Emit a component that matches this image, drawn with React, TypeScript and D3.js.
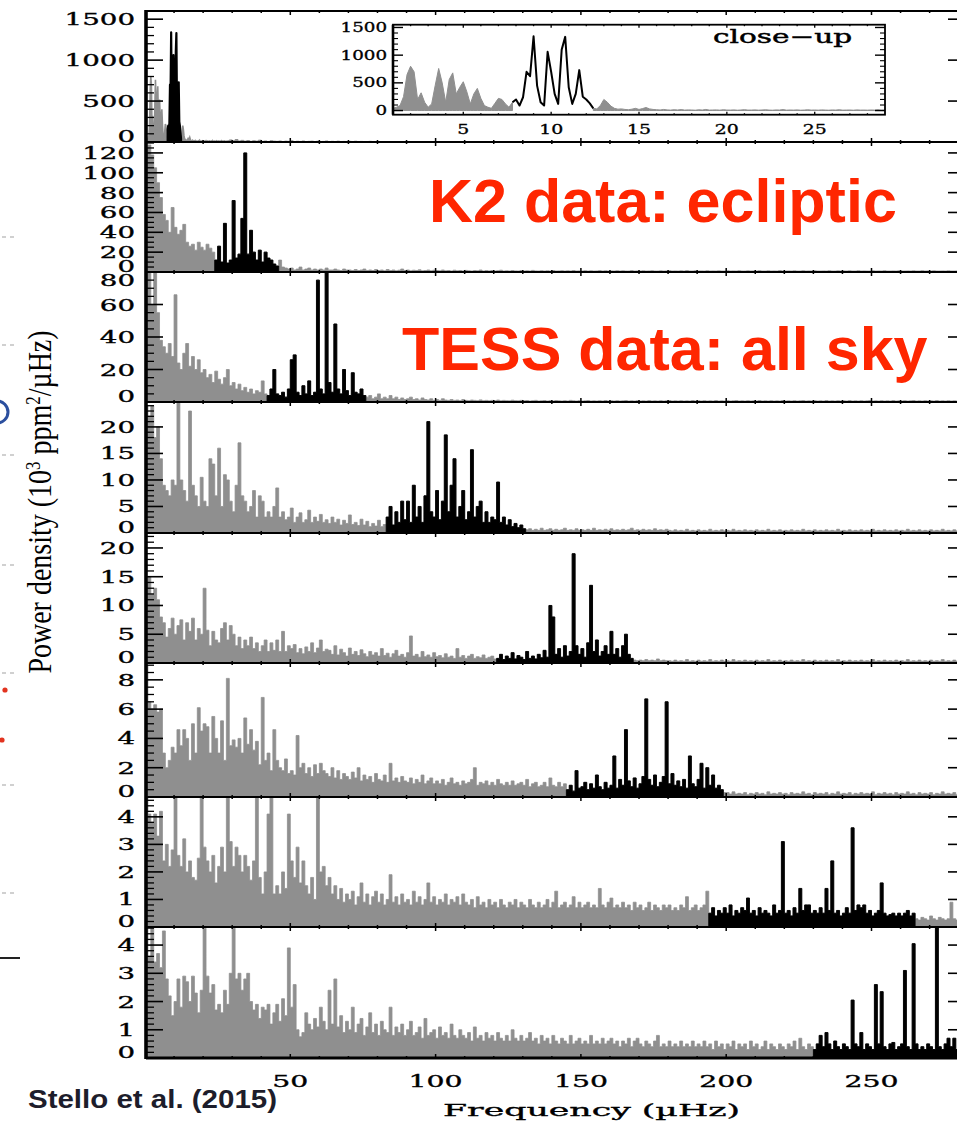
import React from "react";
import * as d3 from "d3";

// ---------- close-up spectrum of the lowest-frequency star (0.2 µHz bins from 1 µHz) ----------
const closeUpStart = 1.0;
const closeUpStep = 0.2;
const closeUpPower = [
  40, 60, 90, 250, 650, 800, 700, 200, 320, 150,
  60, 120, 450, 760, 500, 150, 560, 680, 300, 420,
  520, 340, 120, 300, 400, 220, 90, 60, 40, 130,
  220, 200, 120, 60, 150, 200, 90, 240, 700, 620,
  1340, 450, 150, 90, 1060, 700, 300, 120, 1100, 1330,
  420, 120, 300, 730, 250, 200, 130, 40, 30, 90,
  200, 150, 80, 40, 25, 30, 20, 15, 25, 40,
  20, 35, 55, 30, 20, 15, 10, 20, 12, 8,
  15, 10, 18, 8, 12, 10, 6, 14, 9, 20,
  8, 10, 12, 7, 15, 9, 8, 12, 6, 10,
  16, 8, 9, 12, 7, 10, 14, 8, 6, 11,
  9, 18, 7, 10, 8, 12, 6, 9, 14, 8,
  10, 7, 12, 9, 6, 11, 8, 15, 7, 9,
  10, 6, 12, 8, 9, 7, 10, 8, 13, 7,
  9,
];
// bins (inclusive) holding the oscillation modes of that star
const closeUpModes = [34, 57];
// 1 µHz bins from 29 µHz onwards
const tailPower1 = [
  25, 15, 30, 12, 20, 10, 18, 8, 15, 10,
  22, 8, 12, 6, 15, 10, 8, 12, 6, 10,
  8, 14, 6, 9, 7, 12, 5, 8, 10, 6,
  9, 5, 7, 12, 6, 8, 5, 10, 6, 7,
  5, 8, 6, 9, 5, 7, 6, 5, 8, 6,
  5,
];

// ---------- full spectra, 1 µHz bins starting at 0 µHz ----------
const power2 = [
  125, 128, 118, 105, 90, 75, 58, 52, 40, 65,
  45, 38, 42, 48, 30, 26, 28, 22, 30, 25,
  22, 28, 24, 20, 12, 26, 10, 49, 9, 12,
  72, 14, 18, 54, 120, 18, 42, 20, 12, 22,
  10, 20, 14, 12, 8, 6, 12, 5, 4, 3,
  4, 2, 3, 5, 2, 3, 4, 2, 3, 2,
  3, 2, 4, 2, 2, 3, 2, 1.5, 3, 2,
  2, 1.5, 2.5, 1.5, 2, 3, 1.5, 2, 1.5, 2.5,
  1.5, 2, 1.2, 2.5, 1.5, 2, 1.2, 1.8, 3, 1.5,
  2, 1.2, 1.8, 1.5, 2.2, 1.2, 1.5, 2, 1.2, 1.8,
  1.5, 1.2, 2, 1.2, 1.5, 1, 1.8, 1.2, 1.5, 1,
  1.6, 1.2, 1, 1.5, 1.2, 2, 1, 1.4, 1.1, 1.5,
  1, 1.3, 1.8, 1, 1.2, 1, 1.5, 1.1, 1, 1.4,
  1, 1.2, 1, 1.6, 1.1, 1, 1.3, 1, 1.2, 1,
  1.4, 1, 1.1, 1.3, 1, 1.2, 1, 1.5, 1, 1.1,
  1, 1.3, 1, 1.2, 1, 1.1, 1.4, 1, 1.2, 1,
  1.1, 1, 1.3, 1, 1.2, 1, 1, 1.4, 1, 1.1,
  1, 1.2, 1, 1.1, 1.3, 1, 1, 1.2, 1, 1.1,
  1.3, 1, 1.1, 1, 1.2, 1, 1.4, 1, 1, 1.2,
  1, 1.1, 1, 1.3, 1, 1.1, 1, 1.2, 1, 1,
  1.2, 1, 1.1, 1, 1.3, 1, 1, 1.2, 1, 1.1,
  1, 1.3, 1, 1, 1.2, 1, 1.1, 1, 1.4, 1,
  1, 1.1, 1, 1.2, 1, 1, 1.3, 1, 1.1, 1,
  1.2, 1, 1, 1.1, 1, 1.3, 1, 1, 1.2, 1,
  1.1, 1, 1.2, 1, 1, 1.3, 1, 1.1, 1, 1,
  1.2, 1, 1.1, 1, 1.3, 1, 1, 1.1, 1, 1.2,
  1, 1, 1.1, 1, 1.2, 1, 1, 1.3, 1, 1.1,
  1, 1.2, 1, 1, 1.1, 1, 1.2, 1, 1, 1.1,
  1, 1.2, 1,
];

const power3 = [
  80, 80, 60, 80, 55, 38, 34, 30, 36, 28,
  66, 24, 20, 30, 36, 22, 28, 20, 26, 18,
  20, 15, 17, 12, 19, 14, 11, 15, 20, 10,
  12, 8, 11, 7, 9, 6, 8, 5, 7, 6,
  13, 5, 4, 8, 20, 5, 4, 6, 3, 8,
  26, 29, 6, 4, 10, 5, 13, 4, 6, 75,
  8, 5, 80, 12, 6, 48, 8, 5, 20, 7,
  4, 18, 6, 5, 8, 4, 3, 4, 2, 3,
  5, 2, 3, 2, 4, 2, 3, 1.5, 2.5, 1.5,
  2, 3, 1.5, 2, 1.2, 2.5, 1.5, 1.2, 2, 1,
  1.5, 1, 2, 1.2, 1, 1.5, 1, 1.2, 0.8, 1.5,
  1, 0.8, 1.2, 1, 0.8, 1.3, 0.8, 1, 0.7, 1,
  0.8, 1.2, 0.7, 1, 0.8, 0.7, 1.1, 0.8, 0.7, 1,
  0.7, 0.9, 0.6, 0.8, 1, 0.6, 0.7, 0.9, 0.6, 0.8,
  0.6, 0.9, 0.7, 0.6, 0.8, 0.6, 1, 0.7, 0.6, 0.8,
  0.6, 0.7, 0.9, 0.6, 0.7, 0.6, 0.8, 0.6, 0.9, 0.6,
  0.7, 0.6, 0.8, 0.6, 0.7, 0.9, 0.6, 0.7, 0.6, 0.8,
  0.6, 0.7, 0.6, 0.9, 0.6, 0.7, 0.6, 0.8, 0.6, 0.7,
  0.9, 0.6, 0.7, 0.6, 0.8, 0.6, 0.7, 0.6, 0.9, 0.6,
  0.7, 0.6, 0.8, 0.6, 0.7, 0.6, 0.9, 0.6, 0.7, 0.6,
  0.8, 0.6, 0.7, 0.9, 0.6, 0.7, 0.6, 0.8, 0.6, 0.7,
  0.6, 0.9, 0.6, 0.7, 0.6, 0.8, 0.6, 0.7, 0.6, 0.9,
  0.6, 0.7, 0.6, 0.8, 0.6, 0.7, 0.9, 0.6, 0.7, 0.6,
  0.8, 0.6, 0.7, 0.6, 0.9, 0.6, 0.7, 0.6, 0.8, 0.6,
  0.7, 0.6, 0.9, 0.6, 0.7, 0.6, 0.8, 0.6, 0.7, 0.9,
  0.6, 0.7, 0.6, 0.8, 0.6, 0.7, 0.6, 0.9, 0.6, 0.7,
  0.6, 0.8, 0.6, 0.7, 0.9, 0.6, 0.7, 0.6, 0.8, 0.6,
  0.7, 0.6, 0.9, 0.6, 0.7, 0.6, 0.8, 0.6, 0.7, 0.6,
  0.9, 0.6, 0.7,
];

const power4 = [
  24, 22, 24, 18, 20, 14, 9, 8, 7, 10,
  9, 24.5, 10, 8, 6, 23, 9, 7, 5, 10.5,
  6, 5, 14, 13, 7, 16, 5, 11, 10, 6,
  4, 9, 17, 7, 6, 4, 5, 8, 3, 7,
  6, 3, 4, 3, 5, 8.5, 3, 4, 2.5, 3,
  4.7, 2, 3, 3.8, 2, 2.5, 4.3, 2, 3, 2.2,
  3.5, 2, 2.5, 1.8, 3, 2, 2.6, 1.5, 2.4, 1.8,
  3.4, 1.6, 2, 1.4, 2.6, 1.5, 2.2, 1.2, 1.8, 1.3,
  2.4, 1.2, 1.6, 3, 5, 1.5, 4, 2, 6, 2.5,
  6, 2, 9, 3, 5, 2, 7, 21, 4, 3,
  8, 2.5, 6, 18.5, 4, 9, 14, 3, 5, 8,
  2.5, 4, 15.7, 3, 5, 6, 2, 4, 2, 3,
  2.5, 9.6, 2, 3, 1.5, 2.5, 1.2, 1.8, 1, 1.5,
  0.8, 0.6, 0.8, 0.5, 0.7, 0.5, 0.9, 0.5, 0.6, 0.8,
  0.5, 0.7, 0.5, 0.6, 0.9, 0.5, 0.6, 0.5, 0.8, 0.5,
  0.6, 0.5, 0.7, 0.5, 0.9, 0.5, 0.6, 0.5, 0.7, 0.5,
  0.8, 0.5, 0.6, 0.5, 0.7, 0.5, 0.6, 0.9, 0.5, 0.6,
  0.5, 0.7, 0.5, 0.6, 0.5, 0.8, 0.5, 0.6, 0.5, 0.7,
  0.5, 0.4, 0.6, 0.4, 0.5, 0.4, 0.7, 0.4, 0.5, 0.4,
  0.6, 0.4, 0.5, 0.4, 0.7, 0.4, 0.5, 0.4, 0.6, 0.4,
  0.5, 0.4, 0.7, 0.4, 0.5, 0.4, 0.6, 0.4, 0.5, 0.4,
  0.6, 0.4, 0.5, 0.4, 0.7, 0.4, 0.5, 0.4, 0.6, 0.4,
  0.5, 0.4, 0.6, 0.4, 0.5, 0.4, 0.7, 0.4, 0.5, 0.4,
  0.6, 0.4, 0.5, 0.4, 0.6, 0.4, 0.5, 0.4, 0.7, 0.4,
  0.5, 0.4, 0.6, 0.4, 0.5, 0.4, 0.6, 0.4, 0.5, 0.4,
  0.7, 0.4, 0.5, 0.4, 0.6, 0.4, 0.5, 0.4, 0.6, 0.4,
  0.5, 0.4, 0.7, 0.4, 0.5, 0.4, 0.6, 0.4, 0.5, 0.4,
  0.6, 0.4, 0.5, 0.4, 0.7, 0.4, 0.5, 0.4, 0.6, 0.4,
  0.5, 0.4, 0.6,
];

const power5 = [
  14, 15, 12, 13, 11, 8, 7, 4.5, 6, 7.8,
  5, 6.5, 7.5, 4, 7, 5.5, 7.8, 4, 6, 5,
  13, 5.7, 3, 5.5, 4, 3.5, 6, 7, 4, 6.5,
  5, 3, 4.5, 2.5, 4, 3, 4.5, 2.5, 3.5, 2,
  3, 4, 2, 3.5, 2.2, 4, 2, 5.5, 2, 3,
  2.5, 3.2, 1.8, 2.5, 1.6, 2.8, 2, 3.5, 1.8, 2.6,
  4, 2, 2.4, 2.2, 1.5, 3, 1.4, 2.4, 1.8, 1.2,
  2.6, 1.5, 2, 1.3, 2.3, 1.6, 1.1, 2, 1.4, 1.8,
  1.2, 2.5, 1.3, 1.7, 1, 1.6, 2.2, 1.2, 1.5, 1,
  1.8, 4.7, 1.2, 1.5, 1, 2, 1.1, 1.4, 1, 1.8,
  1.1, 1.3, 0.9, 1.6, 1, 1.2, 0.8, 2.5, 1, 1.3,
  0.8, 1.2, 1.5, 0.8, 1.1, 0.9, 1.4, 0.8, 1, 1.2,
  0.7, 0.8, 1.5, 0.6, 1.2, 0.8, 1.8, 0.7, 1.3, 1,
  0.6, 2, 0.8, 1.2, 0.7, 1.5, 0.9, 2.2, 1, 10,
  8, 1.5, 2.5, 1, 3, 1.2, 2, 19, 3, 1.5,
  2.5, 1, 3.5, 13.5, 2, 4, 1.2, 2, 3, 1.5,
  5.5, 1.5, 2.5, 1, 3, 5, 1.5, 0.8, 0.5, 0.4,
  0.5, 0.4, 0.6, 0.4, 0.5, 0.4, 0.7, 0.4, 0.5, 0.4,
  0.4, 0.3, 0.5, 0.3, 0.4, 0.3, 0.6, 0.3, 0.4, 0.3,
  0.5, 0.3, 0.4, 0.3, 0.6, 0.3, 0.4, 0.3, 0.5, 0.3,
  0.4, 0.3, 0.6, 0.3, 0.4, 0.3, 0.5, 0.3, 0.4, 0.3,
  0.5, 0.3, 0.4, 0.3, 0.6, 0.3, 0.4, 0.3, 0.5, 0.3,
  0.4, 0.3, 0.5, 0.3, 0.4, 0.3, 0.6, 0.3, 0.4, 0.3,
  0.5, 0.3, 0.4, 0.3, 0.5, 0.3, 0.4, 0.3, 0.6, 0.3,
  0.4, 0.3, 0.5, 0.3, 0.4, 0.3, 0.5, 0.3, 0.4, 0.3,
  0.6, 0.3, 0.4, 0.3, 0.5, 0.3, 0.4, 0.3, 0.5, 0.3,
  0.4, 0.3, 0.6, 0.3, 0.4, 0.3, 0.5, 0.3, 0.4, 0.3,
  0.5, 0.3, 0.4, 0.3, 0.6, 0.3, 0.4, 0.3, 0.5, 0.3,
  0.4, 0.3, 0.5,
];

const power6 = [
  9, 6.5, 6, 6.3, 5.8, 6, 3, 2, 2.5, 3.4,
  3, 4.6, 3.5, 4.6, 4, 2.5, 5, 3, 6.1, 4.5,
  5, 4.8, 3, 5.5, 4, 3, 5.2, 2.5, 8.1, 3.5,
  3.9, 3.4, 4, 3, 5.4, 3.6, 4.6, 3.2, 3.8, 2.2,
  6.8, 2.5, 3, 1.8, 4.6, 2.5, 2, 1.8, 2.6, 1.6,
  1.8, 1.5, 4.2, 2, 2.3, 1.6, 2, 1.4, 2.2, 1.6,
  2.3, 1.8, 1.6, 1.4, 2, 1.3, 1.8, 1.2, 1.6, 1.4,
  1.2, 1.7, 1.3, 2, 1.1, 1.5, 1.2, 1.4, 1, 1.6,
  1.2, 1.1, 1.5, 1, 2.3, 1.1, 1.3, 1, 1.4, 1.1,
  1, 1.3, 0.9, 1.2, 1, 1.5, 0.9, 1.1, 1.3, 0.9,
  1.1, 0.9, 1.2, 0.8, 1, 1.3, 0.9, 1, 0.8, 1.1,
  0.9, 1, 1.2, 2, 0.8, 1, 0.9, 1.1, 0.8, 1,
  0.8, 1.2, 0.9, 0.8, 1, 0.8, 1.1, 0.8, 0.9, 1,
  0.8, 1.2, 0.7, 0.9, 1, 0.7, 0.8, 1, 0.7, 1.3,
  0.8, 0.7, 1, 0.7, 0.9, 0.5, 0.8, 0.4, 1.8, 0.6,
  0.7, 1, 0.5, 0.9, 0.6, 1.5, 0.7, 0.5, 1, 0.6,
  0.8, 2.8, 0.6, 1.2, 0.8, 4.6, 1.1, 0.7, 1.3, 0.6,
  0.9, 1.4, 6.7, 1.2, 0.8, 1.5, 0.7, 1, 1.4, 6.5,
  0.9, 1.6, 0.8, 1.1, 0.7, 1.2, 0.6, 2.8, 0.9, 0.7,
  1.2, 2.3, 0.6, 2, 0.8, 1.5, 0.6, 0.8, 0.5, 0.3,
  0.3, 0.2, 0.35, 0.2, 0.25, 0.2, 0.3, 0.15, 0.25, 0.2,
  0.3, 0.2, 0.25, 0.15, 0.35, 0.2, 0.25, 0.2, 0.3, 0.2,
  0.25, 0.15, 0.3, 0.2, 0.25, 0.2, 0.35, 0.2, 0.25, 0.15,
  0.3, 0.2, 0.25, 0.2, 0.3, 0.15, 0.25, 0.2, 0.35, 0.2,
  0.25, 0.2, 0.3, 0.15, 0.25, 0.2, 0.3, 0.2, 0.25, 0.2,
  0.35, 0.15, 0.25, 0.2, 0.3, 0.2, 0.25, 0.15, 0.3, 0.2,
  0.25, 0.2, 0.35, 0.2, 0.25, 0.15, 0.3, 0.2, 0.25, 0.2,
  0.3, 0.15, 0.25, 0.2, 0.35, 0.2, 0.25, 0.2, 0.3, 0.15,
  0.25, 0.2, 0.3,
];

const power7 = [
  4.7, 4.1, 3.8, 4.1, 3.3, 4.2, 2.4, 3, 2.2, 2.8,
  4.7, 2.6, 2.2, 3.2, 2, 2.4, 1.8, 1.7, 2.5, 4.7,
  2.9, 2.4, 2, 2.6, 1.6, 2.2, 2.9, 2, 4.7, 3.1,
  2.2, 2.9, 2.6, 2, 2.6, 2.2, 1.7, 2.4, 4.7, 1.8,
  1.2, 2, 4.1, 4.7, 1.2, 1.5, 1.2, 2, 1.4, 4.1,
  2.4, 1.8, 2.9, 1.6, 2.4, 1.5, 1.2, 1.8, 1, 4.7,
  2, 2.2, 1.5, 1.8, 1.2, 1.5, 1, 1.4, 0.9, 1.2,
  1, 1.3, 0.8, 1.1, 1.6, 0.9, 1.2, 0.8, 1.1, 1.3,
  0.9, 1.2, 0.8, 1, 1.9, 0.9, 1.1, 0.8, 1.2, 0.9,
  1, 0.8, 1.3, 0.9, 1.1, 0.8, 1, 1.6, 0.9, 1.1,
  0.8, 1, 0.9, 1.2, 0.8, 1, 0.9, 1.1, 0.8, 1.2,
  0.9, 0.8, 1, 0.7, 1.1, 0.8, 0.9, 0.7, 1, 0.8,
  0.9, 0.7, 1, 0.8, 0.7, 0.9, 0.8, 1, 0.7, 0.9,
  0.8, 0.7, 1, 0.8, 0.7, 0.9, 0.7, 0.8, 1, 0.7,
  0.9, 1.3, 0.7, 0.8, 0.9, 0.7, 0.8, 1.1, 0.7, 0.9,
  0.7, 0.8, 0.9, 0.7, 0.8, 0.7, 1.4, 0.8, 0.7, 0.9,
  1.05, 0.7, 0.8, 0.7, 0.9, 0.7, 0.8, 0.6, 0.9, 0.7,
  0.8, 0.6, 0.7, 0.9, 0.6, 0.8, 0.7, 0.6, 0.8, 0.7,
  0.8, 0.6, 0.7, 0.6, 0.8, 0.7, 1.1, 0.6, 0.7, 0.8,
  0.6, 0.7, 0.8, 1.3, 0.5, 0.7, 0.4, 0.6, 0.5, 0.7,
  0.5, 0.8, 0.4, 0.6, 0.5, 0.7, 0.6, 1.05, 0.5, 0.6,
  0.4, 0.7, 0.5, 0.6, 0.5, 0.4, 0.8, 0.5, 0.6, 3.1,
  0.5, 0.6, 0.4, 0.7, 0.5, 1.4, 0.6, 0.8, 0.8, 0.5,
  0.6, 0.5, 0.7, 0.5, 1.4, 0.6, 2.4, 0.5, 0.6, 0.4,
  0.5, 0.7, 0.5, 3.6, 0.6, 0.8, 0.7, 0.8, 0.5, 0.6,
  0.4, 0.5, 0.6, 1.6, 0.5, 0.4, 0.45, 0.5, 0.4, 0.5,
  0.4, 0.5, 0.6, 0.4, 0.5, 0.3, 0.25, 0.35, 0.3, 0.25,
  0.4, 0.3, 0.25, 0.35, 0.3, 0.25, 0.3, 0.9, 0.3, 0.25,
  0.35, 0.3, 0.25,
];

const power8 = [
  4.6, 3.6, 4.6, 3.4, 3.7, 3.2, 4.5, 2.8, 2.2, 1.5,
  2, 2.8, 1.8, 2.9, 2.7, 2, 2.9, 2.3, 1.6, 2.4,
  4.6, 2.9, 2.3, 2.6, 1.7, 1.9, 1.6, 2.4, 1.9, 3,
  4.6, 2.8, 3, 2.4, 2.8, 3, 2, 1.7, 1.9, 1.4,
  1.8, 1.7, 1.9, 1.2, 1.6, 1.9, 1.3, 2.1, 1.5, 3.9,
  1.8, 2.6, 1, 0.75, 0.9, 1.6, 1.2, 1, 1.4, 1.1,
  1.8, 1.3, 1, 2.4, 1.2, 2.8, 1.1, 1.5, 0.9, 1.3,
  1, 1.8, 0.9, 1.2, 1.4, 0.8, 1.1, 1.6, 0.9, 1.2,
  0.8, 1.3, 1, 0.9, 1.8, 0.8, 1.1, 0.9, 1.2, 0.8,
  1, 1.3, 0.8, 0.9, 1.1, 0.7, 1.4, 0.8, 0.9, 1,
  0.7, 1.1, 0.8, 0.9, 0.7, 1.2, 0.8, 0.7, 1, 0.8,
  0.7, 0.9, 0.6, 1.1, 0.7, 0.8, 0.6, 0.9, 0.7, 0.8,
  0.6, 0.9, 0.7, 0.6, 0.8, 0.6, 1, 0.7, 0.6, 0.8,
  0.6, 0.7, 0.9, 0.6, 0.7, 0.5, 0.8, 0.6, 0.7, 0.5,
  0.8, 0.6, 0.5, 0.7, 0.6, 0.5, 0.8, 0.5, 0.6, 0.7,
  0.5, 0.6, 0.5, 0.8, 0.5, 0.6, 0.5, 0.7, 0.5, 0.6,
  0.7, 0.5, 0.6, 0.4, 0.6, 0.5, 0.7, 0.4, 0.6, 0.7,
  0.5, 0.4, 0.6, 0.5, 0.4, 0.6, 0.8, 0.4, 0.5, 0.4,
  0.6, 0.4, 0.5, 0.4, 0.6, 0.4, 0.5, 0.4, 0.6, 0.4,
  0.5, 0.4, 0.6, 0.4, 0.5, 0.3, 0.6, 0.4, 0.5, 0.3,
  0.5, 0.4, 0.6, 0.3, 0.5, 0.4, 0.5, 0.3, 0.6, 0.4,
  0.5, 0.3, 0.4, 0.6, 0.3, 0.5, 0.4, 0.3, 0.5, 0.4,
  0.3, 0.5, 0.4, 0.6, 0.3, 0.7, 0.4, 0.3, 0.5, 0.4,
  0.3, 0.5, 0.8, 0.4, 0.9, 0.5, 0.3, 0.6, 0.4, 0.3,
  0.5, 0.4, 0.3, 2.05, 0.5, 0.4, 0.9, 0.3, 0.5, 0.4,
  0.3, 2.6, 0.5, 2.35, 0.4, 0.3, 0.5, 0.55, 0.3, 0.4,
  0.5, 3.1, 0.4, 0.3, 4.05, 0.5, 0.3, 0.4, 0.3, 0.5,
  0.4, 0.3, 5, 0.4, 0.3, 0.5, 0.7, 0.4, 0.7, 0.3,
  0.5, 0.4, 0.3,
];

// panels 2..8: spectra and the bin range [start, end) of the oscillation modes
const spectra = [power2, power3, power4, power5, power6, power7, power8];
const modeRanges = [
  [24, 46], [42, 76], [83, 131], [121, 168], [145, 199], [194, 265], [230, 283],
];

// y axes of the eight panels (top of range, major and minor tick steps)
const yTops = [1600, 131, 80, 24.7, 22.6, 9.15, 4.72, 4.64];
const yMajor = [500, 20, 20, 5, 5, 2, 1, 1];
const yMinor = [100, 5, 5, 1, 1, 0.5, 0.2, 0.2];

// x axis (µHz)
const xLabels = [50, 100, 150, 200, 250];
const closeUpXLabels = [5, 10, 15, 20, 25];
const closeUpYLabels = [0, 500, 1000, 1500];

// faint marks along the left margin
const marginDashes = [237, 345, 455, 565, 673, 785, 893];
const marginRedDots = [[5, 690], [2, 740]];

const GRAY = "#8f8f8f";
const RED = "#ff2600";
const SERIF = "'DejaVu Serif', serif";

// panel frame edges (px)
const panelEdges = [11, 142, 272, 402, 533, 663, 797, 927, 1058];
const FRAME_L = 146;
const FRAME_R = 965;

const xScale = d3.scaleLinear().domain([0, 283]).range([145, 967.4]);

type Pt = [number, number];

function stepArea(power: number[], from: number, to: number, offset: number, y: d3.ScaleLinear<number, number>, base: number) {
  const pts: Pt[] = [];
  for (let i = from; i < to; i++) pts.push([offset + i, power[i]]);
  pts.push([offset + to, power[to - 1]]);
  return d3
    .area<Pt>()
    .curve(d3.curveStepAfter)
    .x((d) => xScale(d[0]))
    .y0(base)
    .y1((d) => y(d[1]))(pts) as string;
}

function Stretch({ x, y, text, size, charW, anchor = "middle", family = SERIF, weight = 0.35 }: any) {
  const s = String(text);
  return (
    <text
      x={x}
      y={y}
      fontFamily={family}
      fontSize={size}
      textAnchor={anchor}
      textLength={s.length * charW}
      lengthAdjust="spacingAndGlyphs"
      fill="#000"
      stroke="#000"
      strokeWidth={weight}
    >
      {s}
    </text>
  );
}

function isMultiple(v: number, step: number) {
  const r = v / step;
  return Math.abs(r - Math.round(r)) < 1e-6;
}

function Panel({ k }: { k: number }) {
  const top = panelEdges[k];
  const bottom = panelEdges[k + 1];
  const y = d3.scaleLinear().domain([0, yTops[k]]).range([bottom, top]);
  const majors = d3.range(0, yTops[k] + 1e-9, yMajor[k]);
  const minors = d3.range(0, yTops[k] + 1e-9, yMinor[k]).filter((v) => !isMultiple(v, yMajor[k]));
  const clipId = `panel-clip-${k}`;

  let marks: React.ReactNode;
  if (k === 0) {
    const pts: Pt[] = closeUpPower.map((v, i) => [closeUpStart + i * closeUpStep, v]);
    const [m0, m1] = closeUpModes;
    const gray = d3
      .area<Pt>()
      .defined((_, i) => i <= m0 || i >= m1)
      .x((d) => xScale(d[0]))
      .y0(bottom)
      .y1((d) => y(d[1]))(pts) as string;
    const black = d3
      .area<Pt>()
      .defined((_, i) => i >= m0 && i <= m1)
      .x((d) => xScale(d[0]))
      .y0(bottom)
      .y1((d) => y(d[1]))(pts) as string;
    marks = (
      <g>
        <path d={gray} fill={GRAY} stroke={GRAY} strokeWidth={1.6} />
        <path d={stepArea(tailPower1, 0, tailPower1.length, 29, y, bottom)} fill={GRAY} stroke={GRAY} strokeWidth={1} />
        <path d={black} fill="#000" stroke="#000" strokeWidth={2.2} strokeLinejoin="round" />
      </g>
    );
  } else {
    const power = spectra[k - 1];
    const [b0, b1] = modeRanges[k - 1];
    marks = (
      <g>
        <path d={stepArea(power, 0, power.length, 0, y, bottom)} fill={GRAY} stroke={GRAY} strokeWidth={0.8} />
        <path d={stepArea(power, b0, b1, 0, y, bottom)} fill="#000" stroke="#000" strokeWidth={0.9} />
      </g>
    );
  }

  return (
    <g>
      <defs>
        <clipPath id={clipId}>
          <rect x={FRAME_L} y={top} width={967 - FRAME_L} height={bottom - top} />
        </clipPath>
      </defs>
      <g clipPath={`url(#${clipId})`}>{marks}</g>
      {/* y ticks, left and right */}
      {majors.map((v) => (
        <g key={`M${v}`}>
          <line x1={FRAME_L} x2={FRAME_L + 17} y1={y(v)} y2={y(v)} stroke="#000" strokeWidth={1.6} />
          <line x1={FRAME_R} x2={FRAME_R - 17} y1={y(v)} y2={y(v)} stroke="#000" strokeWidth={1.6} />
        </g>
      ))}
      {minors.map((v) => (
        <g key={`m${v}`}>
          <line x1={FRAME_L} x2={FRAME_L + 8} y1={y(v)} y2={y(v)} stroke="#000" strokeWidth={1.3} />
          <line x1={FRAME_R} x2={FRAME_R - 8} y1={y(v)} y2={y(v)} stroke="#000" strokeWidth={1.3} />
        </g>
      ))}
      {/* x ticks along the panel's bottom and top edges */}
      {d3.range(10, 281, 10).map((f) => {
        const len = f % 50 === 0 ? 4 : 2;
        return (
          <g key={`x${f}`}>
            <line x1={xScale(f)} x2={xScale(f)} y1={bottom} y2={bottom - len} stroke="#000" strokeWidth={1.5} />
            <line x1={xScale(f)} x2={xScale(f)} y1={top} y2={top + len} stroke="#000" strokeWidth={1.5} />
          </g>
        );
      })}
      {/* y tick labels, kept inside the panel */}
      {majors.map((v) => {
        const c = Math.min(Math.max(y(v), top + 8), bottom - 6.5);
        return <Stretch key={`L${v}`} x={135} y={c + 6} text={v} size={17} charW={17.6} anchor="end" />;
      })}
    </g>
  );
}

function CloseUp() {
  const L = 393, R = 885, T = 24.7, B = 114.7;
  const ix = d3.scaleLinear().domain([1, 29]).range([L, R]);
  const iy = d3.scaleLinear().domain([-75, 1550]).range([B, T]);
  const pts: Pt[] = closeUpPower.map((v, i) => [closeUpStart + i * closeUpStep, v]);
  const [m0, m1] = closeUpModes;
  const gray = d3
    .area<Pt>()
    .defined((_, i) => i <= m0 || i >= m1)
    .x((d) => ix(d[0]))
    .y0(iy(0))
    .y1((d) => iy(d[1]))(pts) as string;
  const black = d3
    .line<Pt>()
    .defined((_, i) => i >= m0 && i <= m1)
    .x((d) => ix(d[0]))
    .y((d) => iy(d[1]))(pts) as string;
  const yMin = d3.range(0, 1501, 100).filter((v) => v % 500 !== 0);
  return (
    <g>
      <rect x={L} y={T} width={R - L} height={B - T} fill="#fff" />
      <path d={gray} fill={GRAY} stroke={GRAY} strokeWidth={1} />
      <path d={black} fill="none" stroke="#000" strokeWidth={2} strokeLinejoin="round" />
      <rect x={L} y={T} width={R - L} height={B - T} fill="none" stroke="#000" strokeWidth={1.8} />
      <line x1={L} x2={L} y1={T} y2={B} stroke="#000" strokeWidth={2.6} />
      {closeUpYLabels.map((v) => (
        <g key={`cy${v}`}>
          <line x1={L} x2={L + 10} y1={iy(v)} y2={iy(v)} stroke="#000" strokeWidth={1.4} />
          <line x1={R} x2={R - 10} y1={iy(v)} y2={iy(v)} stroke="#000" strokeWidth={1.4} />
          <Stretch x={387} y={iy(v) + 4.5} text={v} size={12.5} charW={11.6} anchor="end" weight={0.3} />
        </g>
      ))}
      {yMin.map((v) => (
        <g key={`cym${v}`}>
          <line x1={L} x2={L + 5} y1={iy(v)} y2={iy(v)} stroke="#000" strokeWidth={1.1} />
          <line x1={R} x2={R - 5} y1={iy(v)} y2={iy(v)} stroke="#000" strokeWidth={1.1} />
        </g>
      ))}
      {d3.range(2, 29, 1).map((f) => {
        const len = f % 5 === 0 ? 3 : 1.5;
        return (
          <g key={`cx${f}`}>
            <line x1={ix(f)} x2={ix(f)} y1={B} y2={B - len} stroke="#000" strokeWidth={1.3} />
            <line x1={ix(f)} x2={ix(f)} y1={T} y2={T + len} stroke="#000" strokeWidth={1.3} />
          </g>
        );
      })}
      {closeUpXLabels.map((f) => (
        <Stretch key={`cxl${f}`} x={ix(f)} y={134} text={f} size={12.5} charW={12} weight={0.3} />
      ))}
      <Stretch x={713} y={43} text="close−up" size={19} charW={17.4} anchor="start" weight={0.45} />
    </g>
  );
}

export default function App() {
  return (
    <svg
      width={957}
      height={1127}
      viewBox="0 0 957 1127"
      style={{ position: "absolute", left: 0, top: 0, display: "block", background: "#fff" }}
    >
      <rect x={0} y={0} width={957} height={1127} fill="#fff" />

      {/* margin remnants */}
      {marginDashes.map((yy) => (
        <g key={`d${yy}`}>
          <rect x={2} y={yy - 1} width={4} height={2} fill="#d0d0d0" />
          <rect x={10} y={yy - 1} width={4} height={2} fill="#d0d0d0" />
        </g>
      ))}
      {marginRedDots.map(([cx, cy]) => (
        <circle key={`r${cy}`} cx={cx} cy={cy} r={2.6} fill="#e2331f" />
      ))}
      <path d="M 0 401 A 11 11 0 0 1 0 423" fill="none" stroke="#2b4f9e" strokeWidth={3} transform="translate(-3,0)" />
      <line x1={0} x2={20} y1={958} y2={958} stroke="#222" strokeWidth={2} />

      {d3.range(8).map((k) => (
        <Panel key={k} k={k} />
      ))}

      {/* frame */}
      {panelEdges.map((e, i) => (
        <line key={`h${i}`} x1={FRAME_L} x2={967} y1={e} y2={e} stroke="#000" strokeWidth={i === 8 ? 2.8 : 2.2} />
      ))}
      <line x1={FRAME_L} x2={FRAME_L} y1={panelEdges[0] - 1} y2={panelEdges[8] + 1} stroke="#000" strokeWidth={3.6} />

      <CloseUp />

      {/* x tick labels and title */}
      {xLabels.map((f) => (
        <Stretch key={`xl${f}`} x={xScale(f)} y={1087} text={f} size={17} charW={18} />
      ))}
      <Stretch x={443} y={1116} text="Frequency (µHz)" size={17.5} charW={19.8} anchor="start" />

      {/* y title */}
      <g transform="translate(51,502) scale(1.2,1)">
        <text transform="rotate(-90)" textAnchor="middle" fontFamily="'Liberation Serif', serif" fontSize={28} fill="#000">
          Power density (10
          <tspan dy={-9} fontSize={17}>3</tspan>
          <tspan dy={9}> ppm</tspan>
          <tspan dy={-9} fontSize={17}>2</tspan>
          <tspan dy={9}>/µHz)</tspan>
        </text>
      </g>

      {/* annotations */}
      <text x={429} y={222} fontFamily="'Liberation Sans', Arial, sans-serif" fontWeight="bold" fontSize={61} fill={RED}>
        K2 data: ecliptic
      </text>
      <text x={402} y={370} fontFamily="'Liberation Sans', Arial, sans-serif" fontWeight="bold" fontSize={61} fill={RED}>
        TESS data: all sky
      </text>
      <text
        x={28}
        y={1108}
        fontFamily="'Liberation Sans', Arial, sans-serif"
        fontWeight="bold"
        fontSize={26}
        textLength={249}
        lengthAdjust="spacingAndGlyphs"
        fill="#1d1d2b"
      >
        Stello et al. (2015)
      </text>
    </svg>
  );
}
